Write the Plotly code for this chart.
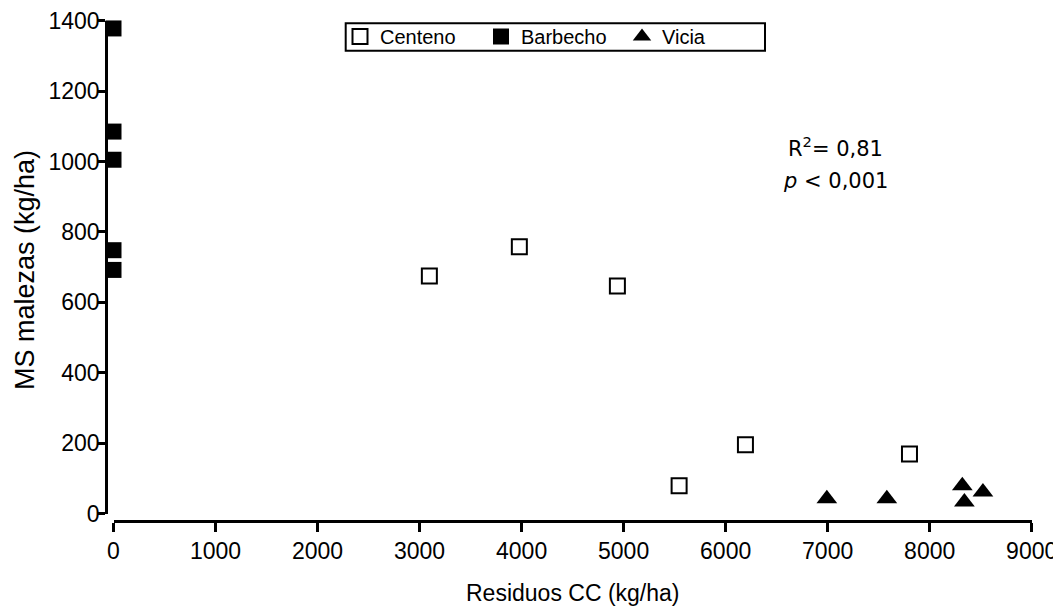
import plotly.graph_objects as go

# ---- data ----
centeno_x = [3096, 3978, 4939, 5544, 6194, 7802]
centeno_y = [675, 758, 646, 79, 195, 169]

barbecho_x = [0, 0, 0, 0, 0]
barbecho_y = [1378, 1085, 1005, 748, 692]

vicia_x = [6992, 7580, 8320, 8340, 8522]
vicia_y = [42, 42, 79, 33, 61]

x_ticks = [0, 1000, 2000, 3000, 4000, 5000, 6000, 7000, 8000, 9000]
y_ticks = [0, 200, 400, 600, 800, 1000, 1200, 1400]

FONT = "Liberation Sans, Arial, sans-serif"
STAT_FONT = "DejaVu Sans, Verdana, sans-serif"

fig = go.Figure()
fig.add_trace(go.Scatter(
    x=centeno_x, y=centeno_y, mode="markers", name="Centeno", cliponaxis=False,
    marker=dict(symbol="square-open", size=15, color="black", line=dict(width=2, color="black")),
))
fig.add_trace(go.Scatter(
    x=barbecho_x, y=barbecho_y, mode="markers", name="Barbecho", cliponaxis=False,
    marker=dict(symbol="square", size=16, color="black", line=dict(width=0)),
))
fig.add_trace(go.Scatter(
    x=vicia_x, y=vicia_y, mode="markers", name="Vicia", cliponaxis=False,
    marker=dict(symbol="triangle-up", size=18, color="black", line=dict(width=0)),
))

W, H = 1061, 608
OFF = 8  # page offset of the figure div (body margin)
ml, mr, mt, mb = 90, 20, 10, 70
pw, ph = W - ml - mr, H - mt - mb

def px_x(p):
    return (p - OFF - ml) / pw

def px_y(p):
    return (H - mb - (p - OFF)) / ph

fig.update_layout(
    width=W, height=H, autosize=False,
    margin=dict(l=ml, r=mr, t=mt, b=mb, pad=0, autoexpand=False),
    paper_bgcolor="white", plot_bgcolor="white",
    font=dict(family=FONT, color="black"),
    showlegend=True,
    legend=dict(
        orientation="h", x=px_x(340), y=px_y(17), xanchor="left", yanchor="top",
        borderwidth=0, bgcolor="rgba(0,0,0,0)",
        font=dict(family=FONT, size=20, color="black"),
        entrywidth=96, entrywidthmode="pixels",
    ),
    xaxis=dict(
        domain=[px_x(113.5), px_x(1031.7)], range=[0, 9000],
        anchor="free", position=px_y(520.5), automargin=False,
        tickmode="array", tickvals=x_ticks, ticktext=[str(v) for v in x_ticks],
        ticks="outside", ticklen=9, tickwidth=3, tickcolor="black",
        ticklabeloverflow="allow",
        showline=True, linewidth=3, linecolor="black",
        showgrid=False, zeroline=False,
        tickfont=dict(family=FONT, size=23, color="black"),
    ),
    yaxis=dict(
        domain=[px_y(513.5), px_y(20.7)], range=[0, 1400],
        anchor="free", position=px_x(106.2), automargin=False,
        tickmode="array", tickvals=y_ticks, ticktext=[str(v) for v in y_ticks],
        ticks="outside", ticklen=7, tickwidth=3, tickcolor="black",
        ticklabelstandoff=-6, ticklabeloverflow="allow",
        showline=True, linewidth=3, linecolor="black",
        showgrid=False, zeroline=False,
        tickfont=dict(family=FONT, size=23, color="black"),
    ),
    shapes=[
        dict(type="rect", xref="paper", yref="paper",
             x0=px_x(345.7), x1=px_x(765), y0=px_y(50.7), y1=px_y(23.3),
             line=dict(color="black", width=2), fillcolor="rgba(0,0,0,0)", layer="below"),
    ],
    annotations=[
        dict(text="Residuos CC (kg/ha)", xref="paper", yref="paper",
             x=px_x(572), y=px_y(593), xanchor="center", yanchor="middle",
             showarrow=False, font=dict(family=FONT, size=23, color="black")),
        dict(text="MS malezas (kg/ha)", xref="paper", yref="paper",
             x=px_x(25), y=px_y(270), xanchor="center", yanchor="middle", textangle=-90,
             showarrow=False, font=dict(family=FONT, size=27, color="black")),
        dict(text="R<sup>2</sup>= 0,81", xref="paper", yref="paper",
             x=px_x(835), y=px_y(147), xanchor="center", yanchor="middle",
             showarrow=False, font=dict(family=STAT_FONT, size=21, color="black")),
        dict(text="<i>p</i> < 0,001", xref="paper", yref="paper",
             x=px_x(835), y=px_y(181), xanchor="center", yanchor="middle",
             showarrow=False, font=dict(family=STAT_FONT, size=21, color="black")),
    ],
)

fig.write_html("out.html")
